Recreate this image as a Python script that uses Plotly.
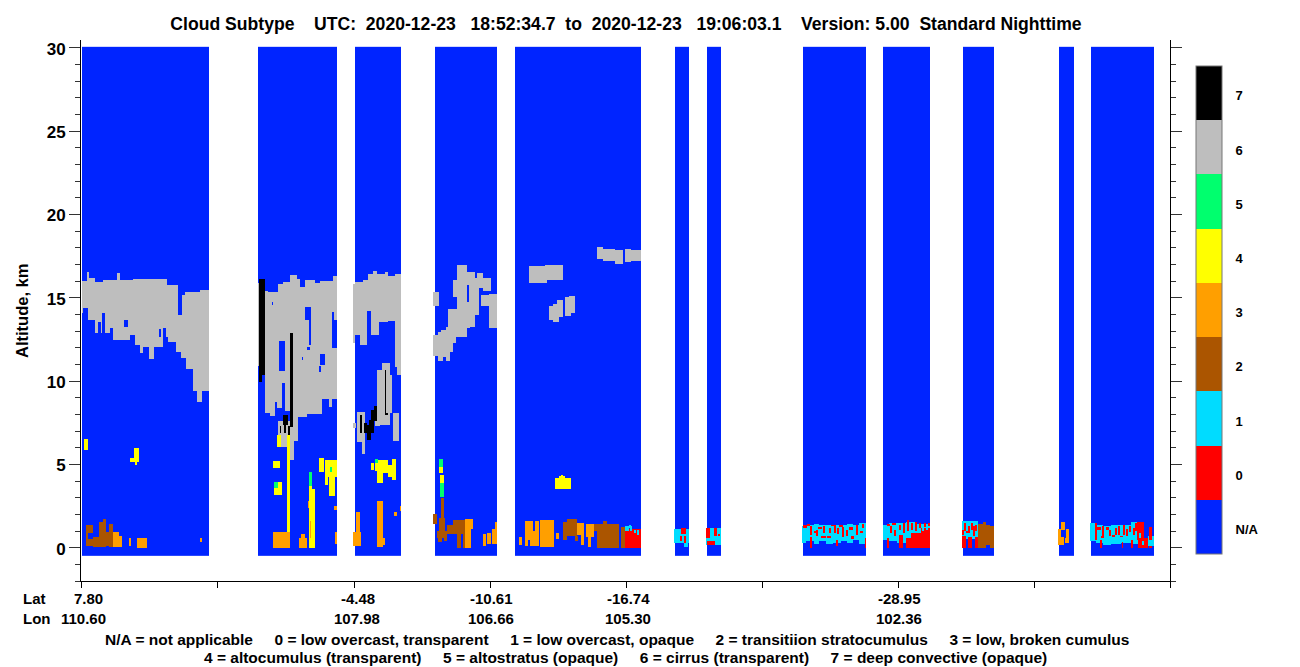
import numpy as np
import plotly.graph_objects as go

# Along-track position is in profile units (0..1089), altitude in km.
SWATHS = [(1, 128), (177, 256), (274, 320), (354, 416), (434, 560), (594, 608),
          (626, 640), (722, 785), (802, 849), (882, 913), (978, 993), (1010, 1073)]

# Upper cloud-layer top and base altitude (x0, x1, km)
CIRRUS_TOPS = [(1, 6, 16.04), (6, 8, 16.58), (8, 14, 16.18), (14, 22, 15.98), (22, 36, 16.08), (36, 39, 16.52),
               (39, 52, 16.08), (52, 86, 16.14), (86, 97, 15.78), (97, 104, 15.18), (104, 119, 15.38), (119, 128, 15.48),
               (177, 184, 15.88), (184, 187, 15.44), (187, 197, 15.38), (197, 202, 15.84), (202, 209, 15.98),
               (209, 216, 16.38), (216, 219, 16.12), (219, 224, 15.68), (224, 234, 16.08), (234, 239, 15.88),
               (239, 252, 16.02), (252, 256, 16.32),
               (272, 274, 15.84), (274, 282, 15.98), (282, 287, 16.08), (287, 292, 16.44), (292, 296, 16.64),
               (296, 304, 16.44), (304, 307, 16.58), (307, 314, 16.32), (314, 320, 16.44)]
CIRRUS_BASES = [(1, 2, 14.08), (2, 7, 14.38), (7, 14, 13.68), (14, 17, 12.92), (17, 20, 13.58), (20, 21, 12.92),
                (21, 24, 14.08), (24, 29, 12.92), (29, 32, 13.2), (32, 49, 12.48), (49, 54, 12.78), (54, 59, 12.18),
                (59, 62, 11.72), (62, 68, 12.04), (68, 73, 11.34), (73, 82, 12.04), (82, 87, 12.64), (87, 95, 12.38),
                (95, 100, 11.78), (100, 105, 11.38), (105, 112, 10.72), (112, 116, 9.44), (116, 121, 8.78), (121, 128, 9.44),
                (177, 184, 10.9), (184, 189, 8.08), (189, 194, 7.92), (194, 196, 8.78), (196, 201, 8.42), (201, 204, 9.88),
                (204, 209, 8.22), (209, 217, 6.44), (217, 226, 7.88), (226, 241, 8.04), (241, 248, 8.92), (248, 251, 8.44),
                (251, 256, 8.92),
                (272, 274, 12.32), (274, 279, 12.78), (279, 286, 12.18), (286, 290, 14.24), (290, 298, 12.78),
                (298, 307, 13.58), (307, 314, 13.64), (314, 320, 10.38)]
# Separate cirrus patches (x0, x1, alt_low, alt_high)
CIRRUS_PATCHES = [(197, 210, 6.68, 7.6), (200, 206, 6.08, 6.88), (207, 213, 5.28, 6.8),
                  (296, 301, 7.4, 10.68), (301, 309, 7.38, 11.08), (309, 311, 8.08, 10.38), (306, 311, 8.08, 9.0),
                  (312, 318, 6.44, 8.08), (294, 299, 7.32, 8.4),
                  (276, 284, 6.38, 8.18), (281, 284, 5.64, 6.4), (272, 275, 7.2, 7.52),
                  (352, 358, 14.52, 15.36), (352, 357, 11.52, 12.78), (357, 362, 11.24, 12.94), (360, 365, 11.48, 13.08),
                  (365, 369, 11.24, 13.28), (369, 372, 11.78, 13.58), (372, 375, 12.28, 13.68), (367, 376, 12.68, 14.34),
                  (376, 386, 12.68, 16.98), (372, 376, 15.08, 16.08), (382, 389, 13.18, 16.58), (389, 394, 13.28, 16.54),
                  (394, 398, 13.98, 16.18), (396, 402, 15.58, 16.48), (402, 410, 15.44, 16.18), (400, 413, 14.52, 15.18),
                  (408, 416, 13.18, 15.24),
                  (448, 466, 15.9, 16.92), (464, 482, 16.08, 16.98), (468, 472, 13.68, 14.52), (472, 478, 13.56, 14.64),
                  (476, 482, 13.86, 14.88), (484, 490, 13.92, 15.06), (488, 494, 14.1, 15.12),
                  (516, 522, 17.34, 18.06), (522, 534, 17.22, 17.94), (534, 542, 17.04, 17.88),
                  (544, 550, 17.16, 17.94), (550, 560, 17.22, 17.88)]
CIRRUS_HOLES = [(43, 47, 13.24, 13.68), (78, 80, 12.64, 13.12), (82, 85, 12.38, 13.18), (97, 101, 13.98, 15.18),
                (198, 204, 10.64, 12.44), (191, 192, 14.58, 14.78), (224, 230, 13.68, 14.48), (228, 230, 12.18, 13.68),
                (226, 229, 11.88, 12.04), (221, 222, 11.28, 11.44), (239, 244, 10.98, 11.64), (238, 240, 10.58, 10.92),
                (251, 256, 11.98, 13.68), (251, 253, 13.68, 14.18), (311, 316, 10.38, 10.88), (386, 388, 14.78, 15.78)]

DEEP_CONVECTIVE = [(178, 184, 10.38, 16.12), (178, 181, 9.98, 10.4), (209, 212, 7.24, 12.92), (202, 207, 7.38, 7.98),
                   (199, 200, 6.9, 7.3), (203, 205, 6.9, 7.4), (207, 209, 6.8, 7.3),
                   (279, 281, 6.88, 7.98), (283, 286, 6.9, 7.5), (286, 290, 6.5, 7.4), (288, 293, 6.9, 7.7),
                   (290, 293, 7.4, 8.3), (293, 296, 7.6, 8.5), (304, 305, 8.04, 10.68), (304, 307, 8.0, 8.1)]

ALTOCUMULUS = [(3, 7, 5.88, 6.52), (49, 53, 5.14, 5.4), (53, 58, 5.14, 6.0), (54, 56, 4.98, 5.2),
               (196, 200, 6.08, 6.78), (206, 209, 0.98, 6.8), (192, 199, 4.8, 5.22), (193, 201, 3.18, 3.96),
               (228, 234, 0.02, 3.54), (228, 231, 3.54, 3.72), (238, 243, 4.56, 5.4), (244, 256, 4.28, 5.28),
               (248, 254, 3.12, 5.28), (244, 247, 3.78, 4.3),
               (290, 293, 4.68, 5.08), (294, 314, 4.28, 5.28), (296, 302, 3.92, 4.28), (311, 315, 4.08, 5.34),
               (358, 362, 4.48, 4.88), (359, 363, 3.88, 4.38),
               (474, 490, 3.54, 4.2), (478, 484, 3.9, 4.34), (480, 482, 4.1, 4.36)]
ALTOSTRATUS = [(193, 197, 3.58, 3.96), (228, 231, 3.72, 4.56), (249, 251, 4.56, 4.88), (294, 297, 5.08, 5.34),
               (358, 362, 4.88, 5.34), (359, 363, 3.08, 3.88)]
TRANSITION_SC = [(5, 12, 0.1, 1.36), (12, 18, 0.08, 0.64), (18, 23, 0.04, 1.58), (22, 25, 0.08, 1.72), (23, 28, 0.1, 0.95),
                 (28, 32, 0.08, 1.44),
                 (360, 363, 1.78, 3.02), (352, 356, 1.44, 2.04), (358, 364, 0.58, 1.78), (356, 366, 0.6, 1.02),
                 (357, 361, 0.36, 0.6), (363, 366, 0.42, 0.6), (366, 372, 0.84, 1.38), (372, 384, 0.84, 1.68),
                 (376, 380, 0.02, 0.84), (382, 384, 0.02, 0.84),
                 (482, 486, 0.48, 1.56), (486, 496, 0.72, 1.74), (494, 497, 0.42, 0.72),
                 (513, 516, 1.0, 1.44), (516, 538, 0.02, 1.44), (522, 526, 0.02, 1.6), (540, 544, 0.02, 1.28),
                 (897, 902, 0.02, 1.45), (902, 905, 0.02, 1.55), (905, 909, 0.18, 1.4), (909, 913, 0.02, 1.3)]
BROKEN_CU = [(32, 38, 0.08, 0.98), (38, 41, 0.08, 0.72), (48, 50, 0.12, 0.6), (56, 66, 0.02, 0.6), (119, 121, 0.36, 0.6),
             (192, 209, 0.02, 0.98), (218, 226, 0.02, 0.6), (220, 224, 0.6, 0.84), (227, 228, 2.4, 2.82),
             (229, 230, 0.62, 1.6), (253, 256, 2.28, 2.52), (254, 256, 0.24, 0.98),
             (272, 280, 0.12, 0.96), (275, 279, 0.96, 2.16), (296, 302, 0.08, 2.82), (302, 304, 0.18, 0.6),
             (313, 316, 1.92, 2.16), (319, 320, 2.22, 2.52),
             (384, 390, 0.02, 1.74), (390, 392, 1.14, 1.74), (402, 405, 0.12, 0.84), (406, 410, 0.24, 0.9),
             (411, 416, 0.24, 1.14), (414, 416, 1.14, 1.56),
             (438, 441, 0.18, 0.66), (444, 458, 0.12, 1.62), (459, 473, 0.06, 1.68), (475, 478, 0.54, 0.9),
             (496, 503, 0.78, 1.48), (500, 503, 0.18, 0.78), (505, 513, 0.64, 1.44), (507, 510, 0.06, 0.64),
             (977, 980, 0.18, 1.14), (980, 983, 0.18, 0.64), (980, 984, 1.08, 1.56), (985, 988, 0.52, 1.14),
             (984, 988, 0.28, 0.58)]
LOW_OPAQUE = [(593, 608, 0.28, 1.14), (603, 607, 0.06, 0.28), (625, 640, 0.18, 1.2),
              (721, 725, 0.3, 1.3), (725, 733, 0.4, 1.4), (733, 738, 0.25, 1.45), (738, 745, 0.4, 1.4), (745, 752, 0.25, 1.35),
              (752, 760, 0.3, 1.4), (760, 766, 0.4, 1.35), (766, 772, 0.3, 1.45), (772, 778, 0.45, 1.4), (778, 785, 0.25, 1.5),
              (802, 808, 0.5, 1.4), (808, 816, 0.4, 1.5), (816, 825, 0.3, 1.5), (825, 835, 0.2, 1.55), (835, 849, 0.4, 1.45),
              (881, 897, 0.55, 1.6),
              (1009, 1015, 0.4, 1.5), (1015, 1022, 0.3, 1.4), (1022, 1030, 0.2, 1.3), (1030, 1040, 0.25, 1.35),
              (1040, 1050, 0.3, 1.4), (1050, 1058, 0.25, 1.55), (1058, 1073, 0.1, 0.75)]
LOW_TRANSPARENT = [(544, 560, 0.02, 1.14), (600, 605, 0.84, 1.2), (603, 605, 0.3, 0.7), (599, 601, 0.4, 0.7),
                   (625, 629, 0.6, 1.2), (633, 636, 0.7, 1.2), (626, 634, 0.18, 0.4), (637, 639, 0.7, 0.85),
                   (729, 731, 0.02, 0.68), (755, 757, 0.14, 0.48), (784, 785, 0.02, 0.6),
                   (722, 726, 1.2, 1.35), (726, 729, 1.3, 1.45), (729, 731, 0.8, 1.3), (735, 737, 0.7, 1.1), (737, 741, 1.15, 1.25),
                   (742, 744, 0.9, 1.3), (746, 750, 0.6, 0.75), (750, 753, 1.3, 1.4), (753, 755, 0.9, 1.35), (756, 758, 0.85, 1.2),
                   (758, 762, 1.25, 1.4), (761, 763, 0.65, 1.25), (765, 767, 0.75, 1.05), (768, 772, 1.1, 1.25), (770, 773, 0.55, 0.7),
                   (775, 777, 0.8, 1.4), (779, 782, 0.9, 1.0), (781, 783, 1.2, 1.45), (740, 745, 0.6, 0.7), (733, 735, 0.9, 1.0),
                   (748, 750, 0.9, 1.2),
                   (806, 808, 0.02, 0.6), (818, 822, 0.02, 0.78), (825, 830, 0.02, 0.6), (830, 840, 0.02, 0.9), (840, 849, 0.02, 1.2),
                   (806, 809, 1.3, 1.45), (811, 815, 1.35, 1.5), (809, 811, 0.9, 1.3), (813, 815, 0.7, 1.1), (818, 820, 1.1, 1.4),
                   (822, 824, 0.9, 1.5), (826, 828, 1.0, 1.7), (830, 832, 1.1, 1.5), (834, 836, 1.0, 1.55), (838, 840, 1.2, 1.5),
                   (843, 845, 1.25, 1.5), (847, 849, 1.3, 1.5),
                   (881, 885, 0.02, 0.72), (887, 891, 0.02, 0.64), (894, 897, 0.02, 0.64), (883, 885, 1.0, 1.5), (887, 889, 0.9, 1.3),
                   (890, 892, 1.1, 1.5), (885, 888, 0.9, 1.0), (892, 894, 0.7, 1.3), (894, 896, 1.0, 1.4), (881, 883, 0.8, 1.05),
                   (1014, 1016, 0.48, 1.48), (1019, 1021, 0.02, 0.48), (1041, 1042, 0.02, 0.38), (1050, 1052, 0.02, 0.48),
                   (1056, 1063, 0.48, 1.56), (1057, 1067, 0.02, 1.08), (1068, 1071, 0.02, 1.28),
                   (1016, 1020, 1.1, 1.25), (1020, 1023, 0.6, 0.75), (1021, 1023, 0.75, 1.3), (1025, 1028, 1.1, 1.25),
                   (1028, 1030, 0.7, 1.1), (1031, 1034, 0.65, 0.8), (1034, 1036, 0.8, 1.2), (1037, 1039, 0.8, 1.3),
                   (1039, 1042, 0.65, 0.75), (1042, 1044, 0.8, 1.35), (1045, 1047, 0.75, 1.15), (1048, 1050, 0.95, 1.3),
                   (1052, 1054, 0.8, 1.2), (1054, 1056, 1.0, 1.5)]
OPAQUE_SPECKS = [(544, 548, 1.0, 1.3), (549, 551, 1.0, 1.3), (548, 550, 1.2, 1.4), (553, 555, 0.9, 1.1), (556, 558, 0.8, 1.1),
                 (832, 834, 0.9, 1.2), (836, 838, 1.0, 1.2), (841, 843, 1.0, 1.2), (845, 847, 1.1, 1.4),
                 (1058, 1060, 0.6, 0.9), (1067, 1073, 0.1, 0.5), (1061, 1063, 0.2, 0.4)]
CLEAR_SPECKS = [(7, 12, 0.55, 0.9), (452, 454, 1.0, 1.62), (447, 449, 0.12, 0.5), (473, 475, 0.1, 1.68),
                (1063, 1067, 0.6, 1.08), (1071, 1073, 0.75, 1.2), (980, 984, 0.64, 1.08),
                (307, 311, 4.98, 5.3), (302, 307, 4.2, 4.5), (294, 296, 4.2, 4.6)]

CODE_NAMES = ["N/A", "0", "1", "2", "3", "4", "5", "6", "7"]
CODE_COLOURS = ["#0024FF", "#FF0000", "#00DCFF", "#AB5500", "#FF9F00", "#FFFF00", "#00FF6E", "#BEBEBE", "#000000"]

ALT_LOW, ALT_HIGH, ALT_STEP = -0.48, 30.06, 0.06
TRACK_LEN = 1089
X_TICKS = [0, 136, 273, 409, 545, 681, 817, 953, 1089]
LAT_X = [7, 277, 410, 547, 818]
LAT_TEXT = ["7.80", "-4.48", "-10.61", "-16.74", "-28.95"]
LON_X = [2, 276, 410, 547, 818]
LON_TEXT = ["110.60", "107.98", "106.66", "105.30", "102.36"]

SP = "\u00a0"
TITLE = ("Cloud Subtype" + SP * 4 + "UTC:" + SP * 2 + "2020-12-23" + SP * 3 + "18:52:34.7" + SP * 2 + "to" + SP * 2 +
         "2020-12-23" + SP * 3 + "19:06:03.1" + SP * 4 + "Version: 5.00" + SP * 2 + "Standard Nighttime")
KEY_1 = (SP * 5).join(["N/A = not applicable", "0 = low overcast, transparent", "1 = low overcast, opaque",
                       "2 = transitiion stratocumulus", "3 = low, broken cumulus"])
KEY_2 = (SP * 5).join(["4 = altocumulus (transparent)", "5 = altostratus (opaque)", "6 = cirrus (transparent)",
                       "7 = deep convective (opaque)"])

n_rows = int(round((ALT_HIGH - ALT_LOW) / ALT_STEP))
z = np.full((n_rows, TRACK_LEN), np.nan, dtype=np.float32)


def row(alt):
    return int(round((alt - ALT_LOW) / ALT_STEP))


def paint(blocks, code):
    for x0, x1, lo, hi in blocks:
        z[row(lo):row(hi), x0:x1] = code


for x0, x1 in SWATHS:
    z[:, x0:x1] = 0

tops = dict()
for x0, x1, alt in CIRRUS_TOPS:
    for i in range(x0, x1):
        tops[i] = alt
for x0, x1, alt in CIRRUS_BASES:
    for i in range(x0, x1):
        if i in tops:
            z[row(alt):row(tops[i]), i] = 7

paint(CIRRUS_PATCHES, 7)
paint(CIRRUS_HOLES, 0)
paint(ALTOCUMULUS, 5)
paint(ALTOSTRATUS, 6)
paint(TRANSITION_SC, 3)
paint(BROKEN_CU, 4)
paint(LOW_OPAQUE, 2)
paint(LOW_TRANSPARENT, 1)
paint(OPAQUE_SPECKS, 2)
paint(CLEAR_SPECKS, 0)
paint(DEEP_CONVECTIVE, 8)

n = len(CODE_COLOURS)
colorscale = []
for i, c in enumerate(CODE_COLOURS):
    colorscale += [[i / n, c], [(i + 1) / n, c]]

# Page geometry of the reference
W, H = 1300, 667
L, R, T, B = 81, 1170, 40, 581
BAR_X0, BAR_X1, BAR_T, BAR_B = 1196, 1222, 66, 554


def px(x):
    return (x - L) / (R - L)


def py(y):
    return (B - y) / (B - T)


fig = go.Figure(go.Heatmap(
    z=z, x0=0.5, dx=1, y0=ALT_LOW + ALT_STEP / 2, dy=ALT_STEP,
    zmin=-0.5, zmax=n - 0.5, colorscale=colorscale, zsmooth=False, hoverongaps=False,
    colorbar=dict(
        x=px(BAR_X0), xanchor="left", xpad=0, ypad=0,
        y=py((BAR_T + BAR_B) / 2), yanchor="middle",
        lenmode="pixels", len=BAR_B - BAR_T, thicknessmode="pixels", thickness=BAR_X1 - BAR_X0,
        outlinecolor="#777777", outlinewidth=1,
        tickmode="array", tickvals=[i - 0.05 for i in range(n)], ticktext=CODE_NAMES,
        ticks="outside", ticklen=11, tickcolor="rgba(0,0,0,0)",
        tickfont=dict(family="Liberation Sans", size=13, color="black", weight=700),
    ),
))

label_font = dict(family="Liberation Sans", size=15, color="black", weight=700)
key_font = dict(family="Liberation Sans", size=15.5, color="black", weight=700)
ann = []
for xs, texts, ypx in ((LAT_X, LAT_TEXT, 598), (LON_X, LON_TEXT, 618)):
    for x, t in zip(xs, texts):
        ann.append(dict(x=x, y=py(ypx), xref="x", yref="paper", text=t, showarrow=False, xanchor="center",
                        yanchor="middle", font=label_font))
for t, ypx in (("Lat", 598), ("Lon", 618)):
    ann.append(dict(x=px(21), y=py(ypx), xref="paper", yref="paper", text=t, showarrow=False, xanchor="left",
                    yanchor="middle", font=label_font))
ann.append(dict(x=px(617), y=py(639), xref="paper", yref="paper", text=KEY_1, showarrow=False, xanchor="center",
                yanchor="middle", font=key_font))
ann.append(dict(x=px(625), y=py(657), xref="paper", yref="paper", text=KEY_2, showarrow=False, xanchor="center",
                yanchor="middle", font=key_font))
ann.append(dict(x=px(22), y=py(311), xref="paper", yref="paper", text="Altitude, km", textangle=-90, showarrow=False,
                xanchor="center", yanchor="middle",
                font=dict(family="Liberation Sans", size=16.5, color="black", weight=700)))

shapes = []
for i in range(1, n):
    yp = py(BAR_B - (BAR_B - BAR_T) * i / n)
    shapes.append(dict(type="line", xref="paper", yref="paper", x0=px(BAR_X0), x1=px(BAR_X1),
                       y0=yp, y1=yp, line=dict(color="#333333", width=1)))

fig.update_layout(
    width=W, height=H, paper_bgcolor="white", plot_bgcolor="white",
    margin=dict(l=L, r=W - R, t=T, b=H - B, pad=0, autoexpand=False),
    title=dict(text=TITLE, x=626 / W, xanchor="center", xref="container", y=1 - 24 / H, yanchor="middle", yref="container",
               font=dict(family="Liberation Sans", size=17.6, color="black", weight=700)),
    xaxis=dict(range=[0, TRACK_LEN], tickmode="array", tickvals=X_TICKS, showticklabels=False, ticks="outside", ticklen=6,
               tickcolor="black", tickwidth=1, showline=True, linecolor="black", linewidth=1, showgrid=False, zeroline=False),
    yaxis=dict(range=[-2, 30.47], tick0=0, dtick=5, ticks="outside", ticklen=11, tickcolor="#333333", tickwidth=1,
               minor=dict(dtick=1, tick0=0, ticks="outside", ticklen=5, tickcolor="#333333", tickwidth=1, showgrid=False),
               showline=True, linecolor="black", linewidth=1, mirror="ticks", showgrid=False, zeroline=False,
               ticklabelshift=1,
               tickfont=dict(family="Liberation Sans", size=17, color="black", weight=700)),
    annotations=ann, shapes=shapes, showlegend=False,
)

fig.write_html("out.html", config=dict(displayModeBar=False), post_script="document.body.style.margin='0';")
